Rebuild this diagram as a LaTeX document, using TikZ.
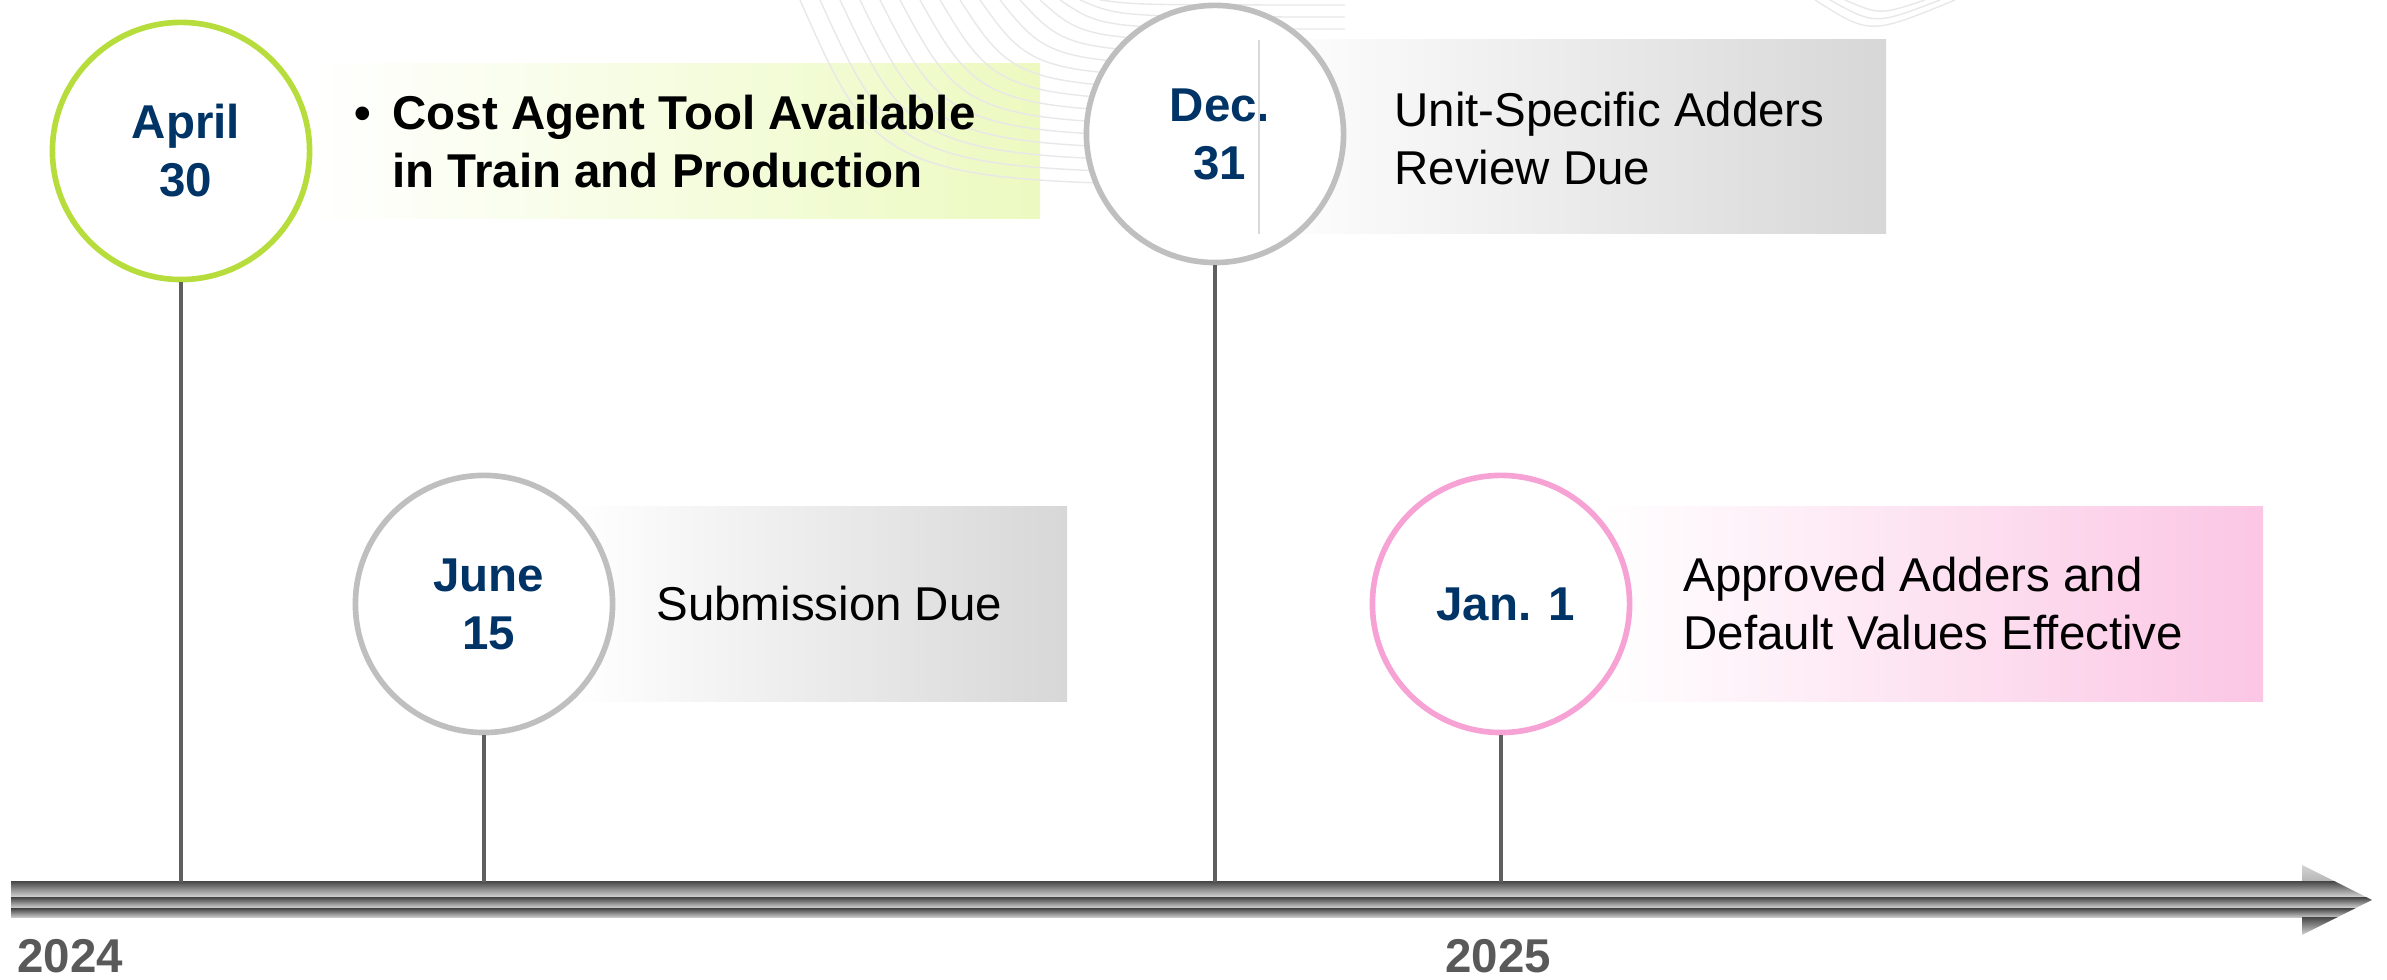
\documentclass[tikz,border=0pt]{standalone}
\usepackage{fontspec}
\setmainfont{Liberation Sans}
\usetikzlibrary{positioning}
\definecolor{dateblue}{RGB}{0,51,102}
\definecolor{greenring}{RGB}{182,221,60}
\definecolor{greenbox}{RGB}{236,250,192}
\definecolor{grayring}{RGB}{191,191,191}
\definecolor{graybox}{RGB}{215,215,215}
\definecolor{pinkring}{RGB}{246,162,212}
\definecolor{pinkbox}{RGB}{251,198,228}
\definecolor{stemgray}{RGB}{95,95,95}
\definecolor{yeargray}{RGB}{89,89,89}
\definecolor{bardark}{RGB}{78,78,78}
\definecolor{barlight}{RGB}{212,212,212}
\begin{document}
\begin{tikzpicture}[x=0.01cm,y=0.01cm,
	datering/.style={circle,minimum size=2.57cm,fill=white,line width=1.6pt,inner sep=0pt,
		align=center,text=dateblue,font=\myfontdate},
	notetext/.style={anchor=west,inner sep=0pt,align=left,font=\myfonttext},
	stem/.style={draw=stemgray,line width=1.1pt},
	fanline/.style={draw=black!9,line width=0.4pt},
	barstripe/.style={top color=bardark,bottom color=barlight}]
			\newcommand{\myfontdate}{
				\fontsize{13.5}{16.5}\selectfont\bfseries
			}\newcommand{\myfonttext}{
				\fontsize{13.5}{16.5}\selectfont
			}\newcommand{\myfontyear}{
				\fontsize{13.5}{16.5}\selectfont\bfseries
			}%Page size
			\useasboundingbox (0,0) rectangle (2387,980);
			%Box behind April 30
			\shade[left color=white,right color=greenbox] (312,761) rectangle (1040,916);
			%Faint lines in the background
			\foreach \i in {0,...,15} {
				\pgfmathsetmacro{\xs}{800+20*\i}
				\pgfmathsetmacro{\ye}{795+12*\i}
				\draw[fanline] (\xs,980) .. controls ({\xs+0.15*(1345-\xs)},\ye) .. (1345,\ye);
			}
			\draw[fanline] (1830,980) .. controls (1875,955) .. (1940,980);
			\draw[fanline] (1845,980) .. controls (1880,965) .. (1925,980);
			\draw[fanline] (1815,980) .. controls (1870,945) .. (1955,980);
			%Boxes behind the other dates
			\shade[left color=white,right color=graybox] (1259,746) rectangle (1886,940);
			\shade[left color=white,right color=graybox] (575,278) rectangle (1067,473);
			\shade[left color=white,right color=pinkbox] (1600,278) rectangle (2263,473);
			%The time line
			\shade[barstripe] (11,98) rectangle (2302,83);
			\shade[barstripe] (11,82) rectangle (2302,72);
			\shade[barstripe] (11,71) rectangle (2302,62);
			%Tip of the time line
			\begin{scope}
				\clip (2302,115) -- (2372,80) -- (2302,45) -- cycle;
				\shade[top color=barlight,bottom color=barlight!85!black] (2302,115) rectangle (2372,98);
				\shade[barstripe] (2302,98) rectangle (2372,83);
				\shade[barstripe] (2302,82) rectangle (2372,72);
				\shade[barstripe] (2302,71) rectangle (2372,62);
				\shade[barstripe] (2302,62) rectangle (2372,45);
			\end{scope}
			%Where the stems meet the time line
			\coordinate (aprilBar) at (181,98);
			\coordinate (juneBar) at (484,98);
			\coordinate (decBar) at (1215,98);
			\coordinate (janBar) at (1501,98);
			%April 30
			\node [datering,draw=greenring] (april) at (181,829) {April\\30};
			\node [notetext,font=\myfonttext\bfseries] (aprilNote) at (344,838)
				{\makebox[0.38cm][l]{\textbullet}Cost Agent Tool Available\\\hspace*{0.38cm}in Train and Production};
			\draw[stem] (april.south) -- (aprilBar);
			%June 15
			\node [datering,draw=grayring] (june) at (484,376) {June\\15};
			\node [notetext] (juneNote) at (646,376) {Submission Due};
			\draw[stem] (june.south) -- (juneBar);
			%Dec. 31
			\node [datering,draw=grayring] (dec) at (1215,846) {Dec.\\31};
			\draw[black!15,line width=0.3pt] (1259,746) -- (1259,940);
			\node [notetext] (decNote) at (1384,841) {Unit-Specific Adders\\Review Due};
			\draw[stem] (dec.south) -- (decBar);
			%Jan. 1
			\node [datering,draw=pinkring] (jan) at (1501,376) {Jan. 1};
			\node [notetext] (janNote) at (1673,376) {Approved Adders and\\Default Values Effective};
			\draw[stem] (jan.south) -- (janBar);
			%Years under the time line
			\node [anchor=base west,inner sep=0pt,text=yeargray,font=\myfontyear] (year2024) at (7,7) {2024};
			\node [anchor=base west,inner sep=0pt,text=yeargray,font=\myfontyear] (year2025) at (1435,7) {2025};
\end{tikzpicture}
\end{document}
